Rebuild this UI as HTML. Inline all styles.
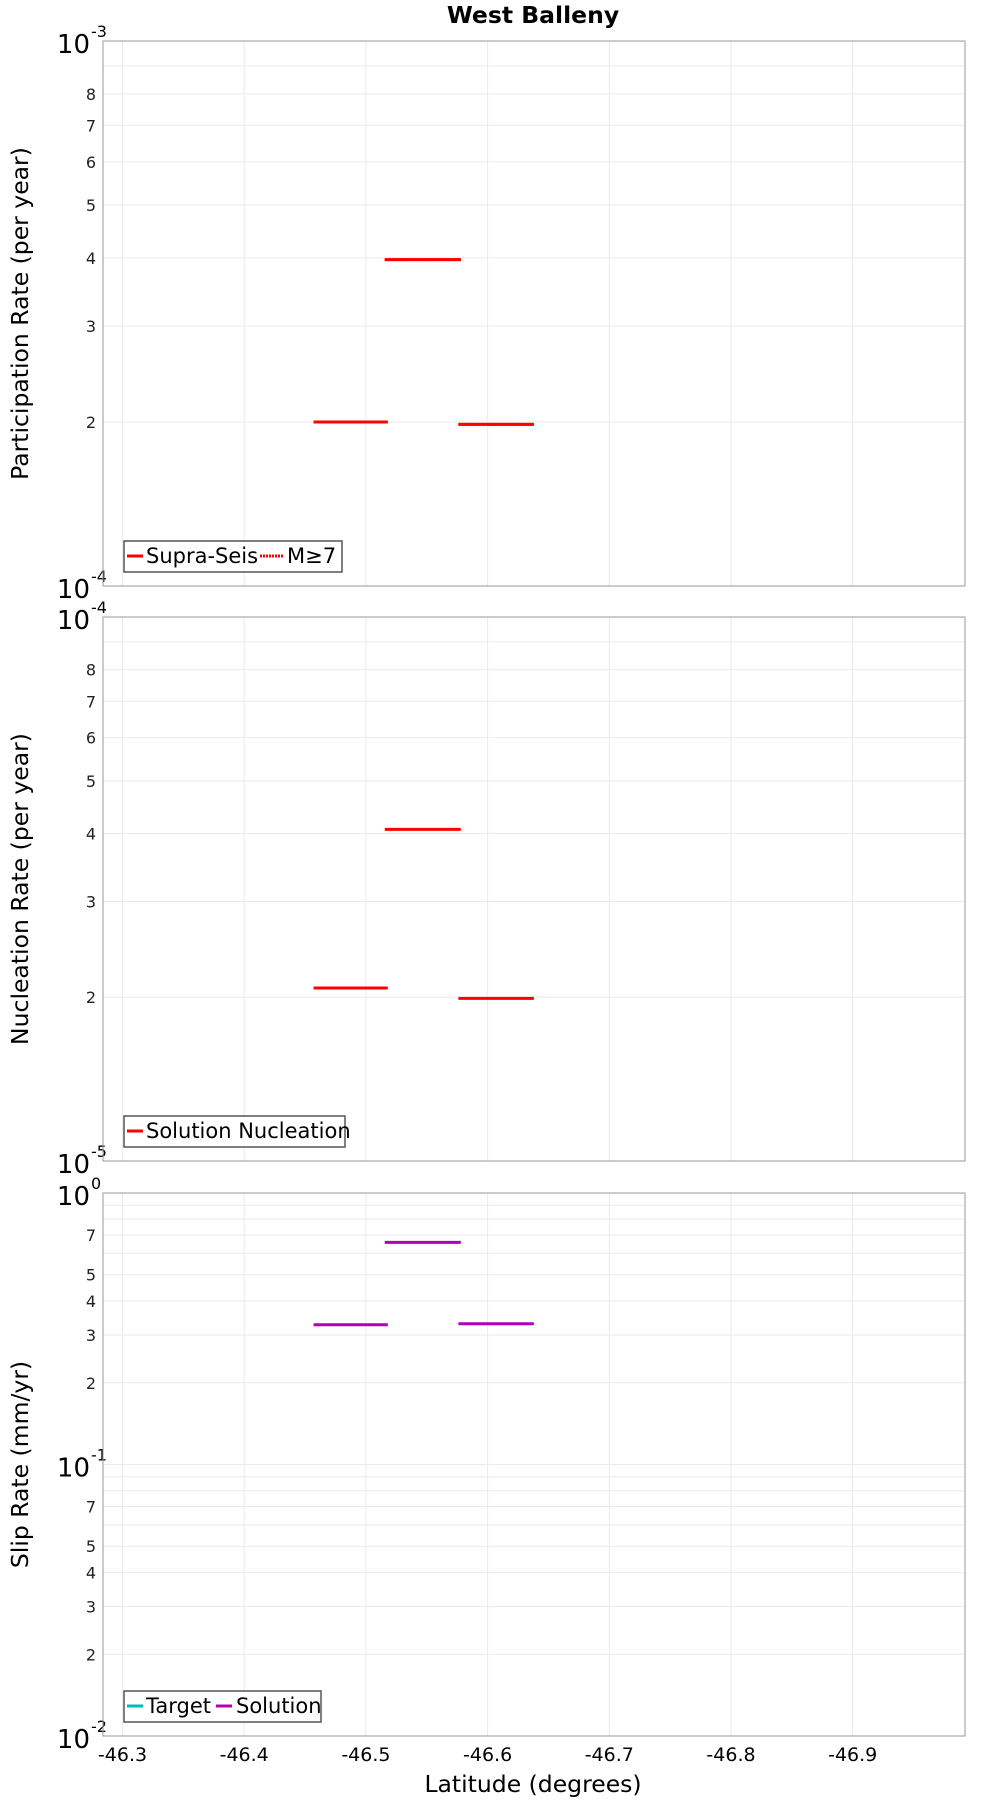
<!DOCTYPE html>
<html><head><meta charset="utf-8"><style>
body{margin:0;background:#fff}
svg{display:block;font-family:"DejaVu Sans","Liberation Sans",sans-serif}
</style></head><body>
<svg id="c" width="1000" height="1800" viewBox="0 0 1000 1800"></svg>
<script>
const xTicks=[-46.3,-46.4,-46.5,-46.6,-46.7,-46.8,-46.9];
const segStart=[-46.457,-46.5155,-46.576];
const segEnd=[-46.518,-46.578,-46.638];
const supraSeis=[2.0e-4,3.97e-4,1.98e-4];
const m7=[2.0e-4,3.97e-4,1.98e-4];
const nucleation=[2.08e-5,4.07e-5,1.99e-5];
const slipSolution=[0.327,0.658,0.330];
const slipTarget=[];
const svg=document.getElementById('c');
const NS='http://www.w3.org/2000/svg';
function mk(t,a,p){const e=document.createElementNS(NS,t);for(const k in a)e.setAttribute(k,a[k]);(p||svg).appendChild(e);return e;}
const L=103,R=965;
const xv=v=>122.5+(v-(-46.3))/(-0.1)*121.7;
const panels=[{top:41,bot:586,lo:-4,hi:-3,title:'Participation Rate (per year)'},
{top:617,bot:1161,lo:-5,hi:-4,title:'Nucleation Rate (per year)'},
{top:1193,bot:1736,lo:-2,hi:0,title:'Slip Rate (mm/yr)'}];
function yf(p){return v=>p.bot-(Math.log10(v)-p.lo)/(p.hi-p.lo)*(p.bot-p.top);}
const t=mk('text',{x:533,y:23,'text-anchor':'middle','font-size':23.5,'font-weight':'bold'});t.textContent='West Balleny';


panels.forEach((p,i)=>{
  const g=mk('g',{});
  
  
  const y=yf(p);
  xTicks.forEach(v=>mk('line',{x1:xv(v),x2:xv(v),y1:p.top,y2:p.bot,stroke:'#ebebeb'},g));
  for(let d=p.lo;d<p.hi;d++){
    for(let m=1;m<=10;m++){
      const val=m*Math.pow(10,d);const yy=y(val);
      mk('line',{x1:L,x2:R,y1:yy,y2:yy,stroke:'#ebebeb'},g);
      const show=(p.hi-p.lo==1)?(m>=2&&m<=8):([2,3,4,5,7].includes(m));
      if(show){const tx=mk('text',{x:96,y:yy+6,'text-anchor':'end','font-size':16,fill:'#222'},g);tx.textContent=m;}
    }
  }
  for(let d=p.lo;d<=p.hi;d++){
    const yy=y(Math.pow(10,d));
    const tx=mk('text',{x:90,y:yy+12,'text-anchor':'end','font-size':26},g);tx.textContent='10';
    const sx=mk('text',{x:91,y:yy-4,'font-size':16},g);sx.textContent=d;
  }
  mk('rect',{x:L,y:p.top,width:R-L,height:p.bot-p.top,fill:'none',stroke:'#999'},g);
  const cy=(p.top+p.bot)/2;
  const yt=mk('text',{x:0,y:0,transform:`translate(28,${cy}) rotate(-90)`,'text-anchor':'middle','font-size':23.5},g);yt.textContent=p.title;
  
  
  function series(vals,col,dash,name){
    vals.forEach((v,k)=>{const ln=mk('line',{x1:xv(segStart[k]),x2:xv(segEnd[k]),y1:y(v),y2:y(v),stroke:col,'stroke-width':3,'stroke-dasharray':dash||'none'},g);
      
      });
  }
  const lg=mk('g',{},g);
  
  
  const ly=p.bot-30;
  if(i==0){series(supraSeis,'#f00',null,'supra-seis');series(m7,'#f00','2 1','m7');
    mk('rect',{x:124,y:ly-15,width:218,height:31,fill:'#fff',stroke:'#555','stroke-width':1.5},lg);
    mk('line',{x1:127,x2:143,y1:ly,y2:ly,stroke:'#f00','stroke-width':3},lg);
    let a=mk('text',{x:146,y:ly+7,'font-size':21},lg);a.textContent='Supra-Seis';
    mk('line',{x1:260,x2:283,y1:ly,y2:ly,stroke:'#f00','stroke-width':3,'stroke-dasharray':'2 1'},lg);
    a=mk('text',{x:287,y:ly+7,'font-size':21},lg);a.textContent='M≥7';
  } else if(i==1){series(nucleation,'#f00',null,'solution-nucleation');
    mk('rect',{x:124,y:ly-15,width:221,height:31,fill:'#fff',stroke:'#555','stroke-width':1.5},lg);
    mk('line',{x1:127,x2:143,y1:ly,y2:ly,stroke:'#f00','stroke-width':3},lg);
    let a=mk('text',{x:146,y:ly+7,'font-size':21},lg);a.textContent='Solution Nucleation';
  } else {series(slipTarget,'#0bb',null,'target');series(slipSolution,'#b000b8',null,'solution');
    mk('rect',{x:124,y:ly-15,width:197,height:31,fill:'#fff',stroke:'#555','stroke-width':1.5},lg);
    mk('line',{x1:127,x2:143,y1:ly,y2:ly,stroke:'#0bb','stroke-width':3},lg);
    let a=mk('text',{x:146,y:ly+7,'font-size':21},lg);a.textContent='Target';
    mk('line',{x1:216,x2:232,y1:ly,y2:ly,stroke:'#b000b8','stroke-width':3},lg);
    a=mk('text',{x:236,y:ly+7,'font-size':21},lg);a.textContent='Solution';
    xTicks.forEach(v=>{const tx=mk('text',{x:xv(v),y:p.bot+25,'text-anchor':'middle','font-size':19},g);tx.textContent=v.toFixed(1);});
    const xt=mk('text',{x:533,y:1792,'text-anchor':'middle','font-size':23.5},g);xt.textContent='Latitude (degrees)';
    
    
  }
});
</script>
</body></html>
